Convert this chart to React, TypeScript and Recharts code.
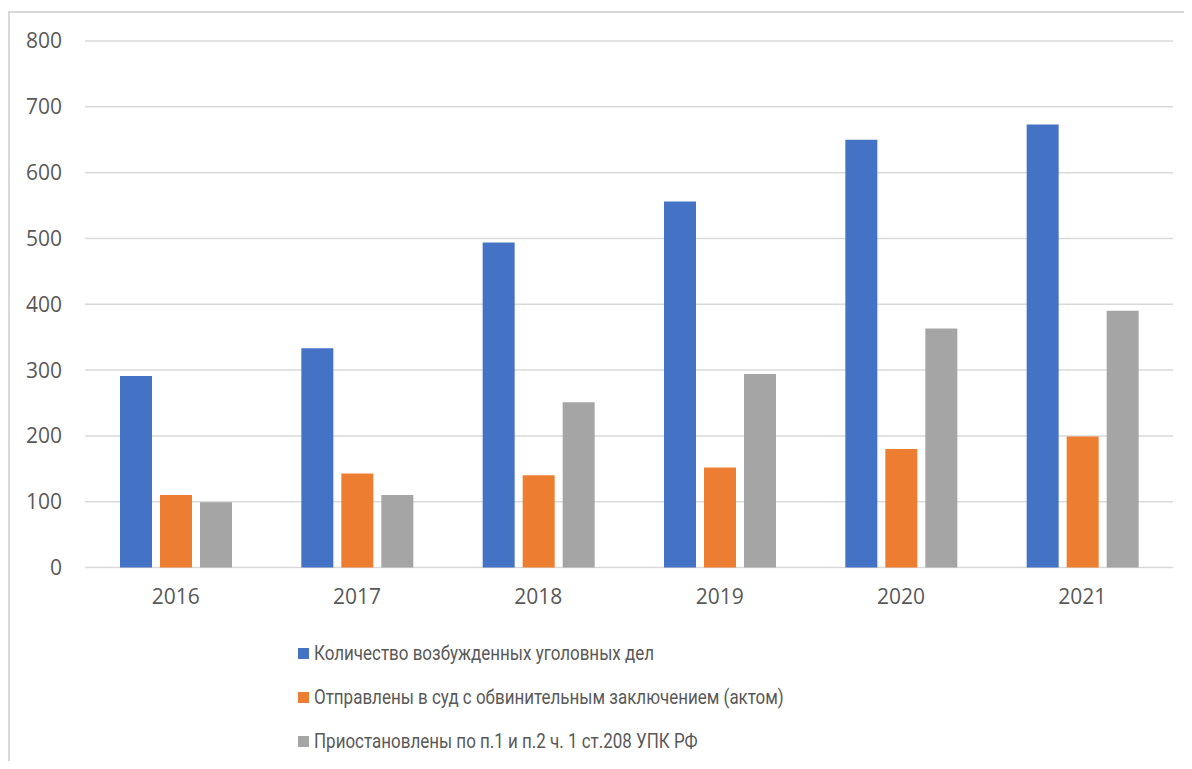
import { BarChart, Bar, XAxis, YAxis, CartesianGrid, Legend } from "recharts";

const years = ["2016", "2017", "2018", "2019", "2020", "2021"];
const initiated = [291, 333, 494, 556, 650, 673];
const sentToCourt = [110, 143, 140, 152, 180, 199];
const suspended = [99, 110, 251, 294, 363, 390];
const yTicks = [0, 100, 200, 300, 400, 500, 600, 700, 800];

const seriesNames = [
  "Количество возбужденных уголовных дел",
  "Отправлены в суд с обвинительным заключением (актом)",
  "Приостановлены по п.1 и п.2 ч. 1 ст.208 УПК РФ",
];
const colors = ["#4472C4", "#ED7D31", "#A5A5A5"];

const chartData = years.map((year, i) => ({
  year,
  initiated: initiated[i],
  sentToCourt: sentToCourt[i],
  suspended: suspended[i],
}));

const FONT = "'Open Sans', 'DejaVu Sans', sans-serif";

// legend text is narrower in the original (Calibri-like), squeeze Roboto a bit
function LegendList() {
  return (
    <div style={{ fontFamily: "Roboto, 'Open Sans', sans-serif", fontSize: 19.5, color: "#595959" }}>
      {seriesNames.map((name, i) => (
        <div key={name} style={{ height: 44, display: "flex", alignItems: "center", whiteSpace: "nowrap" }}>
          <span style={{ display: "inline-block", width: 11, height: 11, background: colors[i], marginRight: 5 }} />
          <span style={{ display: "inline-block", transform: "scaleX(0.87)", transformOrigin: "left center" }}>
            {name}
          </span>
        </div>
      ))}
    </div>
  );
}

export default function App() {
  return (
    <div style={{ paddingTop: 3 }}>
      <div
        style={{
          width: 1182,
          height: 748,
          borderTop: "2px solid #d9d9d9",
          borderLeft: "2px solid #d9d9d9",
          position: "relative",
        }}
      >
        <BarChart
          width={1182}
          height={748}
          data={chartData}
          margin={{ top: 28, right: 19, left: 20, bottom: 163.5 }}
          barSize={32}
          barGap={8}
        >
          <CartesianGrid vertical={false} stroke="#d9d9d9" strokeWidth={1.5} />
          <XAxis
            dataKey="year"
            height={30}
            axisLine={false}
            tickLine={false}
            tickSize={0}
            tickMargin={22}
            tick={{ fill: "#595959", fontSize: 21, fontFamily: FONT }}
          />
          <YAxis
            width={55}
            domain={[0, 800]}
            ticks={yTicks}
            axisLine={false}
            tickLine={false}
            tickSize={0}
            tickMargin={23}
            tick={{ fill: "#595959", fontSize: 21, fontFamily: FONT }}
          />
          <Legend
            layout="vertical"
            align="center"
            verticalAlign="middle"
            content={<LegendList />}
            wrapperStyle={{ top: 618, left: 288, width: "auto" }}
          />
          <Bar dataKey="initiated" name={seriesNames[0]} fill={colors[0]} isAnimationActive={false} />
          <Bar dataKey="sentToCourt" name={seriesNames[1]} fill={colors[1]} isAnimationActive={false} />
          <Bar dataKey="suspended" name={seriesNames[2]} fill={colors[2]} isAnimationActive={false} />
        </BarChart>
      </div>
    </div>
  );
}
